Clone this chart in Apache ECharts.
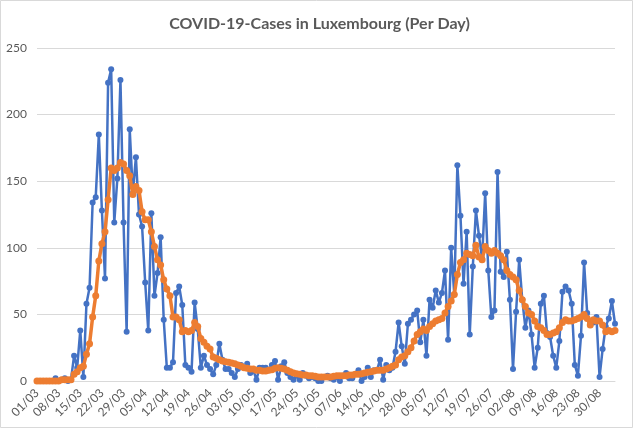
<!DOCTYPE html>
<html>
<head>
<meta charset="utf-8">
<script src="https://cdn.jsdelivr.net/npm/echarts@6/dist/echarts.min.js"></script>
<style>
html,body{margin:0;padding:0;background:#fff;}
#chart{width:639px;height:429px;}
</style>
</head>
<body>
<div id="chart"></div>
<script>
const categories = [
'01/03','02/03','03/03','04/03','05/03','06/03','07/03','08/03','09/03','10/03','11/03','12/03','13/03','14/03','15/03','16/03','17/03','18/03','19/03','20/03','21/03','22/03','23/03','24/03','25/03','26/03','27/03','28/03','29/03','30/03','31/03',
'01/04','02/04','03/04','04/04','05/04','06/04','07/04','08/04','09/04','10/04','11/04','12/04','13/04','14/04','15/04','16/04','17/04','18/04','19/04','20/04','21/04','22/04','23/04','24/04','25/04','26/04','27/04','28/04','29/04','30/04',
'01/05','02/05','03/05','04/05','05/05','06/05','07/05','08/05','09/05','10/05','11/05','12/05','13/05','14/05','15/05','16/05','17/05','18/05','19/05','20/05','21/05','22/05','23/05','24/05','25/05','26/05','27/05','28/05','29/05','30/05','31/05',
'01/06','02/06','03/06','04/06','05/06','06/06','07/06','08/06','09/06','10/06','11/06','12/06','13/06','14/06','15/06','16/06','17/06','18/06','19/06','20/06','21/06','22/06','23/06','24/06','25/06','26/06','27/06','28/06','29/06','30/06',
'01/07','02/07','03/07','04/07','05/07','06/07','07/07','08/07','09/07','10/07','11/07','12/07','13/07','14/07','15/07','16/07','17/07','18/07','19/07','20/07','21/07','22/07','23/07','24/07','25/07','26/07','27/07','28/07','29/07','30/07','31/07',
'01/08','02/08','03/08','04/08','05/08','06/08','07/08','08/08','09/08','10/08','11/08','12/08','13/08','14/08','15/08','16/08','17/08','18/08','19/08','20/08','21/08','22/08','23/08','24/08','25/08','26/08','27/08','28/08','29/08','30/08','31/08',
'01/09','02/09','03/09','04/09'
];

// Daily new cases (blue)
const dailyCases = [
0,0,0,0,0,0,2,0,1,2,0,1,19,10,38,3,58,70,134,138,185,128,77,224,234,119,152,226,119,37,189,
141,168,125,116,74,38,126,64,81,108,46,10,10,14,66,71,57,12,10,7,59,39,10,19,12,9,5,12,28,16,
9,9,6,3,9,12,10,13,6,8,1,10,10,10,8,12,15,1,11,14,6,3,1,4,1,6,4,2,3,2,0,
0,3,4,2,1,3,0,4,6,2,2,5,8,0,3,10,3,8,8,16,1,12,8,10,22,44,26,13,43,46,
50,53,29,46,19,61,55,68,59,66,83,31,100,65,162,124,73,112,35,86,128,109,92,141,83,48,53,157,82,78,97,
61,9,52,91,61,40,53,35,10,25,58,64,36,33,19,10,30,67,71,68,58,12,4,34,89,51,44,44,48,3,24,
41,47,60,43
];

// 7-day average (orange)
const weeklyAverage = [
0,0,0,0,0,0,0,0,1,1,1,1,5,7,10,11,20,28,48,64,90,103,112,136,160,158,160,164,163,158,154,
140,146,143,127,121,121,112,101,91,87,76,69,64,48,48,46,37,38,37,38,44,41,32,29,26,24,18,17,16,15,
14.5,14,13.5,13,12,11,10,9.5,9,9,8,8,7.5,7.5,8,8.5,9.5,10,9.5,9,8,7,6,5.5,5,4.5,4.5,4,4,3.5,3,
3,3,3,3,3.5,4,4,4,4,4.5,4.5,5,5,5.5,6,6.5,7,7.5,8,8,8,9,10,11,12,16,18,19,22,25,
30,35,37,39,38,41,43,45,46,47,51,56,60,65,80,89,91,96,95,94,102,93,91,101,98,96,98,96,94,91,83,
80,78,76,68,61,56,51,50,45,41,40,38,35,35,36,37,40,44,46,45,45,46,47,48,50,47,42,46,45,45,42,
37,38,37,38
];

const yTicks = {min: 0, max: 250, step: 50};
const titleText = 'COVID-19-Cases in Luxembourg (Per Day)';

const chart = echarts.init(document.getElementById('chart'), null, {renderer: 'canvas'});
const FONT = 'Lato, "Open Sans", sans-serif';
chart.setOption({
  animation: false,
  backgroundColor: '#ffffff',
  title: {
    text: titleText,
    left: 'center',
    top: 11,
    textStyle: {fontFamily: FONT, fontSize: 16, fontWeight: 'bold', color: '#595959'}
  },
  grid: {left: 37, right: 24, top: 48, bottom: 48, containLabel: false},
  xAxis: {
    type: 'category',
    data: categories,
    boundaryGap: false,
    axisLine: {show: true, lineStyle: {color: '#d9d9d9', width: 1}},
    axisTick: {show: false},
    axisLabel: {
      interval: 6,
      rotate: 45,
      margin: 10,
      fontFamily: FONT,
      fontSize: 12,
      color: '#595959'
    },
    splitLine: {show: false}
  },
  yAxis: {
    type: 'value',
    min: yTicks.min,
    max: yTicks.max,
    interval: yTicks.step,
    axisLine: {show: false},
    axisTick: {show: false},
    axisLabel: {margin: 10, fontFamily: FONT, fontSize: 12, color: '#595959'},
    splitLine: {show: true, lineStyle: {color: '#d9d9d9', width: 1}}
  },
  series: [
    {
      name: 'Daily cases',
      type: 'line',
      data: dailyCases,
      symbol: 'circle',
      symbolSize: 6,
      showAllSymbol: true,
      lineStyle: {color: '#4472C4', width: 2.5},
      itemStyle: {color: '#4472C4'},
      z: 2
    },
    {
      name: '7-day average',
      type: 'line',
      data: weeklyAverage,
      symbol: 'circle',
      symbolSize: 7,
      showAllSymbol: true,
      lineStyle: {color: '#ED7D31', width: 3.5},
      itemStyle: {color: '#ED7D31'},
      z: 3
    }
  ],
  graphic: [{
    type: 'rect',
    shape: {x: 0.5, y: 0.5, width: 632, height: 427},
    style: {fill: 'none', stroke: '#d9d9d9', lineWidth: 1},
    silent: true,
    z: -1
  }]
});
</script>
</body>
</html>
